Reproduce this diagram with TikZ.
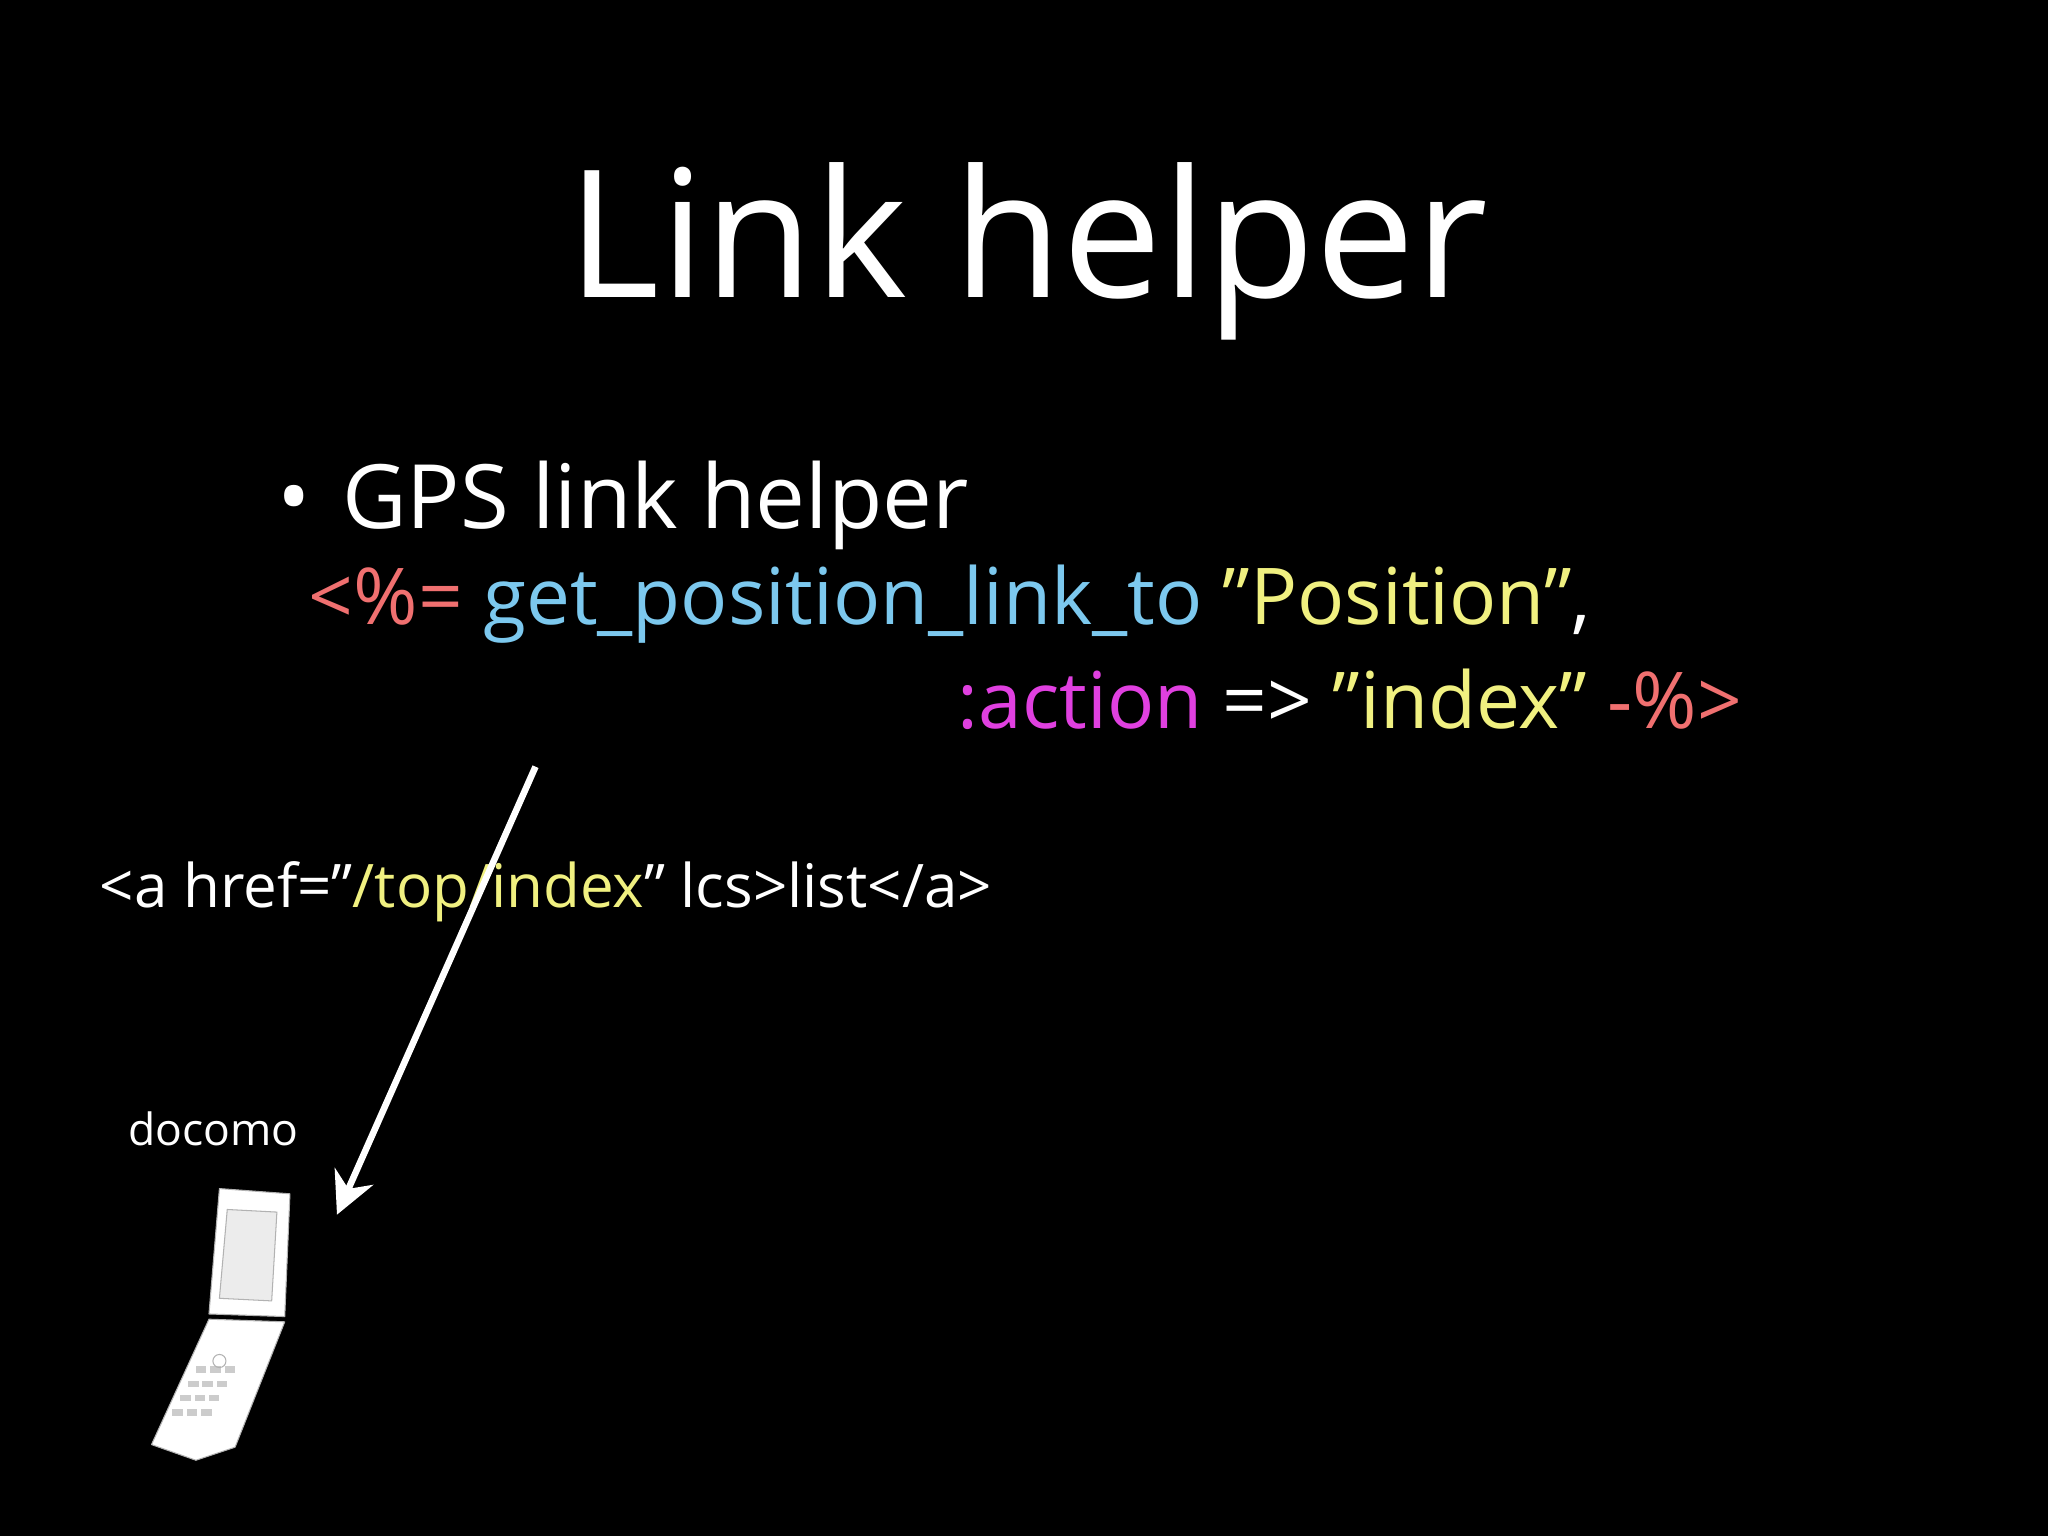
\documentclass[tikz,border=0pt]{standalone}
\usepackage{fontspec}
\usetikzlibrary{arrows.meta}
\setmainfont{Open Sans}
\definecolor{cred}{HTML}{F07070}
\definecolor{ccyan}{HTML}{7CC8EE}
\definecolor{cyel}{HTML}{F0F080}
\definecolor{cmag}{HTML}{E040E0}
\begin{document}
\begin{tikzpicture}[x=0.5pt,y=-0.5pt,txt/.style={text=white,inner sep=0pt,anchor=base west}]
\fill[black] (0,0) rectangle (1568,1176);
\useasboundingbox (0,0) rectangle (1568,1176);
\node[txt,anchor=base] (title) at (787,228) {\fontsize{68}{70}\selectfont Link helper};
\node[txt] (bul) at (212,405) {\fontsize{34}{36}\selectfont •\hspace{12pt}GPS link helper};
\node[txt] (c1) at (236,478) {\fontsize{30}{32}\selectfont\color{cred}<\%= \color{ccyan}get\_position\_link\_to \color{cyel}"Position"\color{white},};
\node[txt] (c2) at (733,558) {\fontsize{30}{32}\selectfont\color{cmag}:action \color{white}=> \color{cyel}"index" \color{cred}-\%>};
\node[txt] (html) at (76,695) {\fontsize{23}{25}\selectfont <a href="\textcolor{cyel}{/top/index}" lcs>list</a>};
\node[txt] (doc) at (98,877) {\fontsize{17}{19}\selectfont docomo};
\coordinate (s) at (410,587);
\coordinate (e) at (258,930);
\draw[white,line width=2.5pt,-{Stealth[length=16pt,width=16pt]}] (s) -- (e);
% phone
\begin{scope}[line join=round]
\fill[white,draw=gray!60] (168,910) -- (222,914) -- (218,1008) -- (160,1006) -- cycle;
\fill[gray!15,draw=gray!60] (174,926) -- (212,928) -- (208,996) -- (168,994) -- cycle;
\fill[white,draw=gray!60] (160,1010) -- (218,1012) -- (180,1108) -- (150,1118) -- (116,1106) -- cycle;
\foreach \i in {0,1,2,3}{\foreach \j in {0,1,2}{
 \fill[gray!40] ({150+\j*11-\i*6},{1046+\i*11}) rectangle ++(8,5);}}
\draw[gray!60] (168,1042) circle (5);
\end{scope}
\end{tikzpicture}
\end{document}
